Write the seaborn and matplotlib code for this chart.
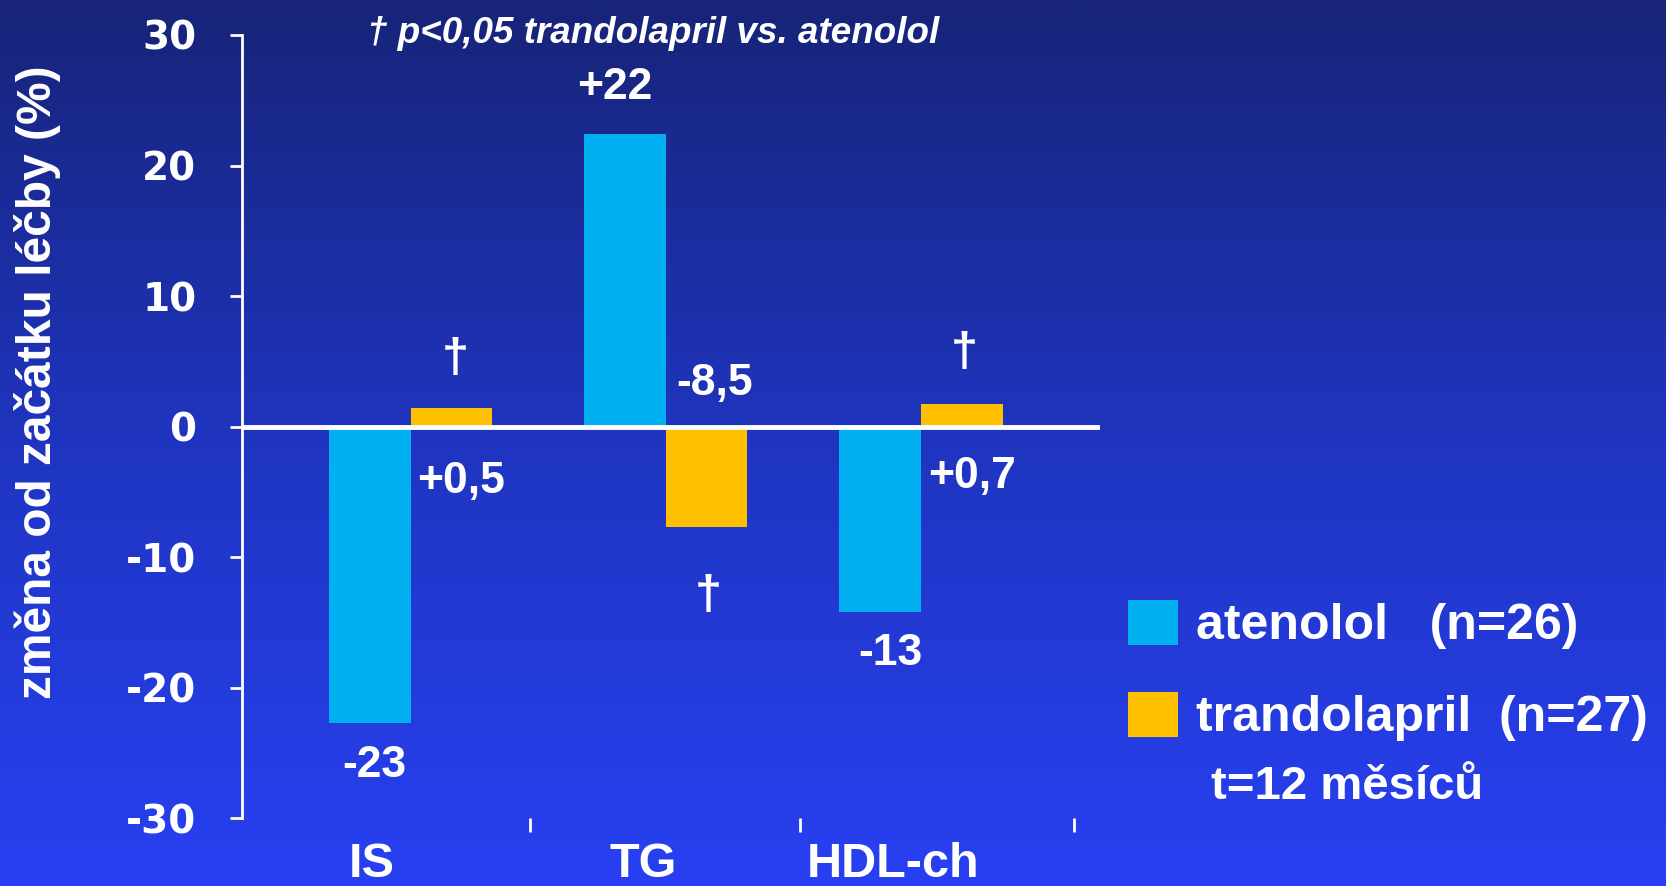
import numpy as np
import pandas as pd
import matplotlib
matplotlib.use('Agg')
import matplotlib.pyplot as plt
import seaborn as sns

# data
categories = ['IS', 'TG', 'HDL-ch']
drugs = ['atenolol   (n=26)', 'trandolapril  (n=27)']
atenolol = [-22.7, 22.4, -14.2]
trandolapril = [1.4, -7.7, 1.7]
atenolol_txt = ['-23', '+22', '-13']
trandolapril_txt = ['+0,5', '-8,5', '+0,7']
yticks = [-30, -20, -10, 0, 10, 20, 30]

# annotation placement (data coords)
ate_pos = [(-0.14, -26.0), (0.80, 26.0), (1.88, -17.4)]
tra_pos = [(0.20, -4.2), (1.19, 3.3), (2.20, -3.8)]
dag_pos = [(0.175, 5.1), (1.167, -13.0), (2.17, 5.6)]
cat_pos = [-0.15, 0.9125, 1.89]
sep_pos = [0.467, 1.525, 2.6]

cyan = '#00B0F0'
orange = '#FFC000'
narrow = ['Liberation Sans Narrow', 'Liberation Sans', 'DejaVu Sans']

df = pd.DataFrame({
    'cat': categories * 2,
    'drug': [drugs[0]] * 3 + [drugs[1]] * 3,
    'val': atenolol + trandolapril,
})

sns.set_theme(style='white')
plt.rcParams['font.family'] = ['Liberation Sans', 'DejaVu Sans']

fig = plt.figure(figsize=(16.66, 8.86), dpi=100)

# gradient background
bg = fig.add_axes([0, 0, 1, 1], zorder=-10)
top = np.array([0x17, 0x24, 0x78]) / 255
mid = np.array([0x1F, 0x35, 0xC0]) / 255
bot = np.array([0x28, 0x40, 0xF2]) / 255
t = np.linspace(0, 1, 400)[:, None]
grad = np.where(t < 0.5, top + (mid - top) * (t / 0.5), mid + (bot - mid) * ((t - 0.5) / 0.5))
bg.imshow(grad[:, None, :], aspect='auto', extent=[0, 1, 0, 1])
bg.axis('off')

ax = fig.add_axes([0.1453, 0.0767, 0.5147, 0.8838])
ax.patch.set_alpha(0)
sns.barplot(data=df, x='cat', y='val', hue='drug', palette=[cyan, orange],
            width=0.64, saturation=1, errorbar=None, linewidth=0, ax=ax)

ax.set_xlim(-0.66, 2.70)
ax.set_ylim(-30, 30)
ax.axhline(0, color='white', lw=3.5, zorder=5)

for s in ['top', 'right', 'bottom']:
    ax.spines[s].set_visible(False)
ax.spines['left'].set_color('white')
ax.spines['left'].set_linewidth(2)

ax.set_yticks(yticks)
ax.set_yticklabels([str(v) for v in yticks], fontsize=28, fontweight='bold',
                   color='white', family='DejaVu Sans')
ax.tick_params(axis='y', colors='white', length=9, width=2, direction='out', pad=24, left=True)

ax.set_xticks(sep_pos)
ax.set_xticklabels([])
ax.tick_params(axis='x', which='major', colors='white', length=10, width=2, bottom=True)
ax.set_xticks(cat_pos, minor=True)
ax.set_xticklabels(categories, minor=True, fontsize=35, fontweight='bold',
                   color='white', family=narrow)
ax.tick_params(axis='x', which='minor', length=0, pad=17)
ax.set_xlabel('')

ax.set_ylabel('změna od začátku léčby (%)', fontsize=34.5, fontweight='bold',
              color='white', family=narrow, va='center')
ax.yaxis.set_label_coords(-0.239, 0.556)

lab = dict(ha='center', va='center', color='white', fontsize=32,
           fontweight='bold', family=narrow)
for (x, y), s in zip(ate_pos, atenolol_txt):
    ax.text(x, y, s, **lab)
for (x, y), s in zip(tra_pos, trandolapril_txt):
    ax.text(x, y, s, **lab)
for (x, y) in dag_pos:
    ax.text(x, y, '†', ha='center', va='center', color='white',
            fontsize=35, fontweight='bold')

fig.text(0.392, 0.962, '† p<0,05 trandolapril vs. atenolol', ha='center', va='center',
         color='white', fontsize=26.5, fontweight='bold', style='italic', family=narrow)

h, l = ax.get_legend_handles_labels()
leg = ax.legend(h, l, loc='upper left', bbox_to_anchor=(0.677, 0.3228),
                bbox_transform=fig.transFigure, frameon=False, fontsize=36,
                handlelength=1.0, handleheight=1.0, handletextpad=0.36,
                labelspacing=0.85, borderpad=0, borderaxespad=0)
for txt in leg.get_texts():
    txt.set_color('white')
    txt.set_fontweight('bold')

fig.text(0.727, 0.112, 't=12 měsíců', ha='left', va='center', color='white',
         fontsize=34, fontweight='bold')

fig.savefig('out.png', dpi=100)
